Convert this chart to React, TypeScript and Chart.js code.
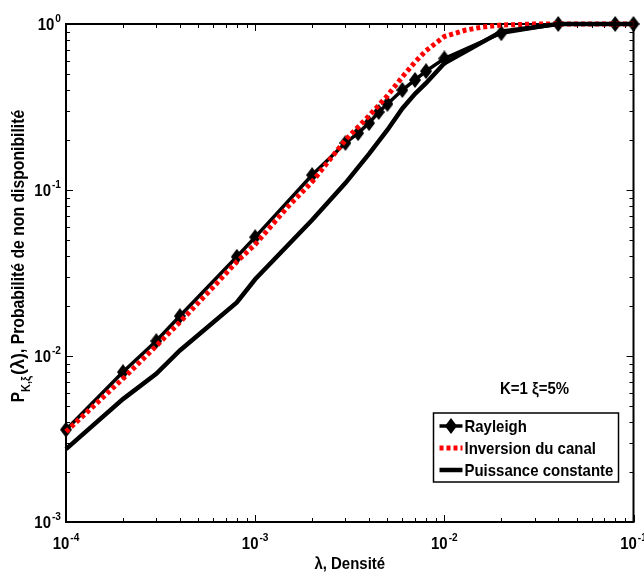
import React, { useEffect, useRef } from 'react';
import { Chart, registerables } from 'chart.js';

Chart.register(...registerables);

// ---------- data ----------
const rayleighX = [1e-4, 2e-4, 3e-4, 4e-4, 8e-4, 1e-3, 2e-3, 3e-3, 3.5e-3, 4e-3, 4.5e-3, 5e-3, 6e-3, 7e-3, 8e-3, 1e-2, 2e-2, 4e-2, 8e-2, 1e-1];
const rayleighY = [3.6e-3, 8.0e-3, 1.23e-2, 1.74e-2, 3.96e-2, 5.2e-2, 0.123, 0.192, 0.22, 0.253, 0.295, 0.33, 0.4, 0.46, 0.52, 0.62, 0.88, 1.0, 1.0, 1.0];

const inversionX = [1e-4, 2e-4, 3e-4, 4e-4, 6e-4, 8e-4, 1e-3, 1.5e-3, 2e-3, 3e-3, 4e-3, 5e-3, 6e-3, 7e-3, 8e-3, 1e-2, 1.3e-2, 1.6e-2, 2e-2, 3e-2, 1e-1];
const inversionY = [3.5e-3, 7.3e-3, 1.15e-2, 1.6e-2, 2.6e-2, 3.7e-2, 4.7e-2, 8e-2, 0.112, 0.2, 0.28, 0.37, 0.48, 0.59, 0.69, 0.84, 0.92, 0.96, 0.985, 1.0, 1.0];

const puissanceX = [1e-4, 2e-4, 3e-4, 4e-4, 8e-4, 1e-3, 2e-3, 3e-3, 4e-3, 5e-3, 6e-3, 7e-3, 8e-3, 1e-2, 2e-2, 4e-2, 8e-2, 1e-1];
const puissanceY = [2.75e-3, 5.5e-3, 7.8e-3, 1.08e-2, 2.1e-2, 2.9e-2, 6.6e-2, 0.11, 0.165, 0.23, 0.31, 0.38, 0.44, 0.58, 0.9, 1.0, 1.0, 1.0];

const seriesNames = ['Rayleigh', 'Inversion du canal', 'Puissance constante'];
const xTickExps = [-4, -3, -2, -1];
const yTickExps = [-3, -2, -1, 0];
const xTitle = 'λ, Densité';
const yTitleMain = 'P';
const yTitleSub = 'K,ξ';
const yTitleArg = '(λ)';
const yTitleRest = ', Probabilité de non disponibilité';
const annotationText = 'K=1 ξ=5%';

// ---------- styles ----------
const FAMILY = "'Liberation Sans', Arial, sans-serif";
const MAIN_FONT = `bold 17px ${FAMILY}`;
const YT_FONT = `bold 17.5px ${FAMILY}`;
const ARG_FONT = `bold 18px ${FAMILY}`;
const SUP_FONT = `bold 11.5px ${FAMILY}`;
const SUB_FONT = `bold 12.5px ${FAMILY}`;
const SX = 0.88; // horizontal condensing of text
const RED = '#ff0000';

function tw(ctx: CanvasRenderingContext2D, s: string, font: string, sx: number = SX) {
  ctx.font = font;
  return ctx.measureText(s).width * sx;
}
function txt(ctx: CanvasRenderingContext2D, s: string, x: number, y: number, font: string, sx: number = SX) {
  ctx.save();
  ctx.font = font;
  ctx.textAlign = 'left';
  ctx.translate(x, y);
  ctx.scale(sx, 1);
  ctx.fillText(s, 0, 0);
  ctx.restore();
}

function makeDiamond(w: number, h: number): HTMLCanvasElement {
  const c = document.createElement('canvas');
  c.width = w;
  c.height = h;
  const ctx = c.getContext('2d')!;
  ctx.fillStyle = '#000';
  ctx.beginPath();
  ctx.moveTo(w / 2, 0);
  ctx.lineTo(w, h / 2);
  ctx.lineTo(w / 2, h);
  ctx.lineTo(0, h / 2);
  ctx.closePath();
  ctx.fill();
  return c;
}

function drawPower(ctx: CanvasRenderingContext2D, exp: number, x: number, baseY: number, align: 'center' | 'right') {
  const expStr = exp < 0 ? '-' + Math.abs(exp) : String(exp);
  const w10 = tw(ctx, '10', MAIN_FONT);
  const wE = tw(ctx, expStr, SUP_FONT);
  const total = w10 + wE + 1;
  const x0 = align === 'center' ? x - total / 2 : x - total;
  ctx.textBaseline = 'alphabetic';
  txt(ctx, '10', x0, baseY, MAIN_FONT);
  txt(ctx, expStr, x0 + w10 + 1, baseY - 8, SUP_FONT);
}

function makePlugin(diamond: HTMLCanvasElement) {
  return {
    id: 'matlabLook',
    beforeDatasetsDraw(chart: any) {
      const { ctx, chartArea: a, scales } = chart;
      const xs = scales.x;
      const ys = scales.y;
      ctx.save();
      ctx.fillStyle = '#fff';
      ctx.fillRect(a.left, a.top, a.right - a.left, a.bottom - a.top);
      ctx.strokeStyle = '#000';
      ctx.lineWidth = 1;
      for (let e = xTickExps[0]; e <= xTickExps[xTickExps.length - 1]; e++) {
        for (let m = 1; m <= 9; m++) {
          const v = m * Math.pow(10, e);
          if (v > xs.max * 1.0001) break;
          const px = Math.round(xs.getPixelForValue(v)) + 0.5;
          const len = m === 1 ? 7 : 4;
          ctx.beginPath();
          ctx.moveTo(px, a.bottom);
          ctx.lineTo(px, a.bottom - len);
          ctx.moveTo(px, a.top);
          ctx.lineTo(px, a.top + len);
          ctx.stroke();
        }
      }
      for (let e = yTickExps[0]; e <= yTickExps[yTickExps.length - 1]; e++) {
        for (let m = 1; m <= 9; m++) {
          const v = m * Math.pow(10, e);
          if (v > ys.max * 1.0001) break;
          const py = Math.round(ys.getPixelForValue(v)) + 0.5;
          const len = m === 1 ? 7 : 4;
          ctx.beginPath();
          ctx.moveTo(a.left, py);
          ctx.lineTo(a.left + len, py);
          ctx.moveTo(a.right, py);
          ctx.lineTo(a.right - len, py);
          ctx.stroke();
        }
      }
      ctx.lineWidth = 2;
      ctx.strokeRect(a.left, a.top, a.right - a.left, a.bottom - a.top);
      ctx.restore();
    },
    afterDraw(chart: any) {
      const { ctx, chartArea: a, scales } = chart;
      const xs = scales.x;
      const ys = scales.y;
      ctx.save();
      ctx.fillStyle = '#000';
      ctx.textBaseline = 'alphabetic';
      xTickExps.forEach((e) => {
        drawPower(ctx, e, xs.getPixelForValue(Math.pow(10, e)), a.bottom + 27, 'center');
      });
      yTickExps.forEach((e) => {
        drawPower(ctx, e, a.left - 5, ys.getPixelForValue(Math.pow(10, e)) + 6, 'right');
      });
      // x title
      const wX = tw(ctx, xTitle, MAIN_FONT);
      txt(ctx, xTitle, (a.left + a.right) / 2 - wX / 2, a.bottom + 47, MAIN_FONT);
      // y title (reads bottom to top)
      const wP = tw(ctx, yTitleMain, YT_FONT);
      const wS = tw(ctx, yTitleSub, SUB_FONT);
      const wG = tw(ctx, yTitleArg, ARG_FONT, 1);
      const wR = tw(ctx, yTitleRest, YT_FONT, 0.9);
      const total = wP + wS + 1 + wG + wR;
      ctx.save();
      ctx.translate(24, (a.top + a.bottom) / 2 - 17);
      ctx.rotate(-Math.PI / 2);
      let x = -total / 2;
      txt(ctx, yTitleMain, x, 0, YT_FONT);
      x += wP;
      txt(ctx, yTitleSub, x, 6, SUB_FONT);
      x += wS + 1;
      txt(ctx, yTitleArg, x, 0, ARG_FONT, 1);
      x += wG;
      txt(ctx, yTitleRest, x, 0, YT_FONT, 0.9);
      ctx.restore();

      // annotation
      const wA = tw(ctx, annotationText, MAIN_FONT);
      txt(ctx, annotationText, a.right - 99 - wA / 2, a.bottom - 128, MAIN_FONT);

      // legend
      const lx = a.right - 200;
      const ly = a.bottom - 109;
      const lw = 185;
      const lh = 69;
      ctx.fillStyle = '#fff';
      ctx.fillRect(lx, ly, lw, lh);
      ctx.strokeStyle = '#000';
      ctx.lineWidth = 1.5;
      ctx.strokeRect(lx, ly, lw, lh);
      const rows = [ly + 13, ly + 35, ly + 57];
      const x1 = lx + 6;
      const x2 = lx + 29;
      ctx.lineWidth = 3.5;
      ctx.setLineDash([]);
      ctx.beginPath();
      ctx.moveTo(x1, rows[0]);
      ctx.lineTo(x2, rows[0]);
      ctx.stroke();
      ctx.drawImage(diamond, (x1 + x2) / 2 - diamond.width / 2, rows[0] - diamond.height / 2);
      ctx.strokeStyle = RED;
      ctx.lineWidth = 5;
      ctx.setLineDash([4, 3]);
      ctx.beginPath();
      ctx.moveTo(x1, rows[1]);
      ctx.lineTo(x2, rows[1]);
      ctx.stroke();
      ctx.setLineDash([]);
      ctx.strokeStyle = '#000';
      ctx.lineWidth = 4.5;
      ctx.beginPath();
      ctx.moveTo(x1, rows[2]);
      ctx.lineTo(x2, rows[2]);
      ctx.stroke();
      ctx.fillStyle = '#000';
      ctx.textBaseline = 'middle';
      seriesNames.forEach((n, i) => txt(ctx, n, lx + 31, rows[i] + 1, MAIN_FONT));
      ctx.restore();
    },
  };
}

export default function App() {
  const ref = useRef<HTMLCanvasElement>(null);
  useEffect(() => {
    if (!ref.current) return;
    const diamond = makeDiamond(12, 16);
    const toPts = (xs: number[], ys: number[]) => xs.map((x, i) => ({ x, y: ys[i] }));
    const chart = new Chart(ref.current, {
      type: 'line',
      data: {
        datasets: [
          {
            label: seriesNames[0],
            data: toPts(rayleighX, rayleighY),
            borderColor: '#000',
            backgroundColor: '#000',
            borderWidth: 3.5,
            pointStyle: diamond as any,
            pointRadius: 7,
            tension: 0,
            clip: 12,
            order: 3,
          },
          {
            label: seriesNames[1],
            data: toPts(inversionX, inversionY),
            borderColor: RED,
            borderWidth: 5,
            borderDash: [4, 3],
            pointRadius: 0,
            tension: 0,
            clip: 12,
            order: 2,
          },
          {
            label: seriesNames[2],
            data: toPts(puissanceX, puissanceY),
            borderColor: '#000',
            borderWidth: 4.5,
            pointRadius: 0,
            tension: 0,
            clip: 12,
            order: 1,
          },
        ],
      },
      options: {
        animation: false,
        responsive: true,
        maintainAspectRatio: false,
        layout: { padding: { left: 66, right: 10, top: 24, bottom: 52 } },
        plugins: { legend: { display: false }, tooltip: { enabled: false } },
        scales: {
          x: { type: 'logarithmic', min: 1e-4, max: 1e-1, display: false },
          y: { type: 'logarithmic', min: 1e-3, max: 1, display: false },
        },
      } as any,
      plugins: [makePlugin(diamond)],
    });
    return () => chart.destroy();
  }, []);
  return (
    <div style={{ position: 'absolute', left: 0, top: 0, width: 644, height: 574, background: '#fff' }}>
      <canvas ref={ref} />
    </div>
  );
}
